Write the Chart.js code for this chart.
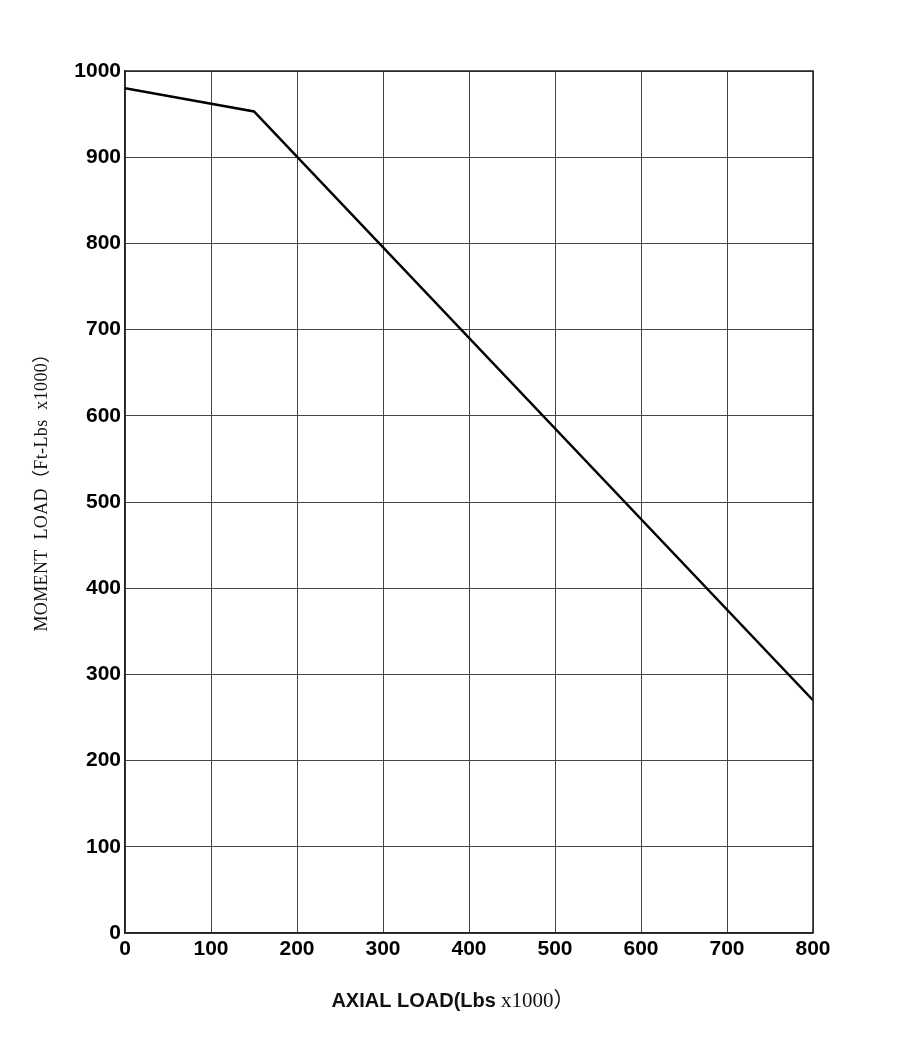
<!DOCTYPE html>
<html>
<head>
<meta charset="utf-8">
<script src="https://cdn.jsdelivr.net/npm/chart.js@4/dist/chart.umd.min.js"></script>
<style>
  html, body { margin: 0; padding: 0; background: #fff; }
  #wrap { width: 905px; height: 1037px; position: relative; }
</style>
</head>
<body>
<div id="wrap"><canvas id="chart"></canvas></div>
<script>
const axialLoad = [0, 150, 800];
const momentLoad = [980, 953, 270];
const xTicks = [0, 100, 200, 300, 400, 500, 600, 700, 800];
const yTicks = [0, 100, 200, 300, 400, 500, 600, 700, 800, 900, 1000];
const xTitleBold = 'AXIAL LOAD(Lbs';
const xTitleRest = ' x1000\uFF09';
const yTitle = 'MOMENT  LOAD\uFF08Ft-Lbs  x1000\uFF09';

const tickFont = { family: '"Liberation Sans", Arial', size: 21, weight: 'bold' };

// axis titles use two fonts, so draw them by hand
const axisTitles = {
  id: 'axisTitles',
  afterDraw(chart) {
    const ctx = chart.ctx;
    ctx.save();
    ctx.fillStyle = '#111';
    ctx.textBaseline = 'alphabetic';
    const boldFont = 'bold 20px "Liberation Sans", Arial';
    const serifFont = '21px "Liberation Serif", "Noto Sans CJK SC", serif';
    ctx.font = boldFont;
    const w1 = ctx.measureText(xTitleBold).width;
    ctx.font = serifFont;
    const w2 = ctx.measureText(xTitleRest).width;
    const x = 453 - (w1 + w2) / 2;
    ctx.textAlign = 'left';
    ctx.font = boldFont;
    ctx.fillText(xTitleBold, x, 1007);
    ctx.font = serifFont;
    ctx.fillText(xTitleRest, x + w1, 1007);

    // y title: serif, stretched a little to the reference length
    ctx.translate(47, 488);
    ctx.rotate(-Math.PI / 2);
    ctx.font = '18px "Liberation Serif", "Noto Sans CJK SC", serif';
    const wy = ctx.measureText(yTitle).width;
    const spacing = Math.max(0, (287 - wy) / yTitle.length);
    ctx.letterSpacing = spacing.toFixed(2) + 'px';
    ctx.textAlign = 'left';
    ctx.fillText(yTitle, -287 / 2, 0);
    ctx.restore();
  }
};

new Chart(document.getElementById('chart'), {
  type: 'scatter',
  data: {
    datasets: [{
      data: axialLoad.map((v, i) => ({ x: v, y: momentLoad[i] })),
      showLine: true,
      borderColor: '#000',
      borderWidth: 2.5,
      pointRadius: 0,
      tension: 0
    }]
  },
  options: {
    responsive: true,
    maintainAspectRatio: false,
    animation: false,
    layout: { padding: { top: 71, right: 92, bottom: 0, left: 0 } },
    plugins: { legend: { display: false }, tooltip: { enabled: false } },
    scales: {
      x: {
        type: 'linear',
        min: 0, max: 800,
        afterBuildTicks: s => { s.ticks = xTicks.map(v => ({ value: v })); },
        afterFit: s => { s.height = 104; },
        grid: { color: '#444', lineWidth: 1, drawTicks: false },
        border: { color: '#222', width: 1.5 },
        ticks: { color: '#000', font: tickFont, padding: 4, maxRotation: 0, autoSkip: false, callback: v => String(v) }
      },
      y: {
        type: 'linear',
        min: 0, max: 1000,
        afterBuildTicks: s => { s.ticks = yTicks.map(v => ({ value: v })); },
        afterFit: s => { s.width = 125; },
        grid: { color: '#444', lineWidth: 1, drawTicks: false },
        border: { color: '#222', width: 1.5 },
        ticks: { color: '#000', font: tickFont, padding: 4, autoSkip: false, callback: v => String(v) }
      }
    }
  },
  plugins: [axisTitles, {
    id: 'rightTopBorder',
    afterDatasetsDraw(chart) {
      const a = chart.chartArea, ctx = chart.ctx;
      ctx.save();
      ctx.strokeStyle = '#222';
      ctx.lineWidth = 1.5;
      ctx.beginPath();
      ctx.moveTo(a.left, a.top); ctx.lineTo(a.right, a.top); ctx.lineTo(a.right, a.bottom);
      ctx.stroke();
      ctx.restore();
    }
  }]
});
</script>
</body>
</html>
